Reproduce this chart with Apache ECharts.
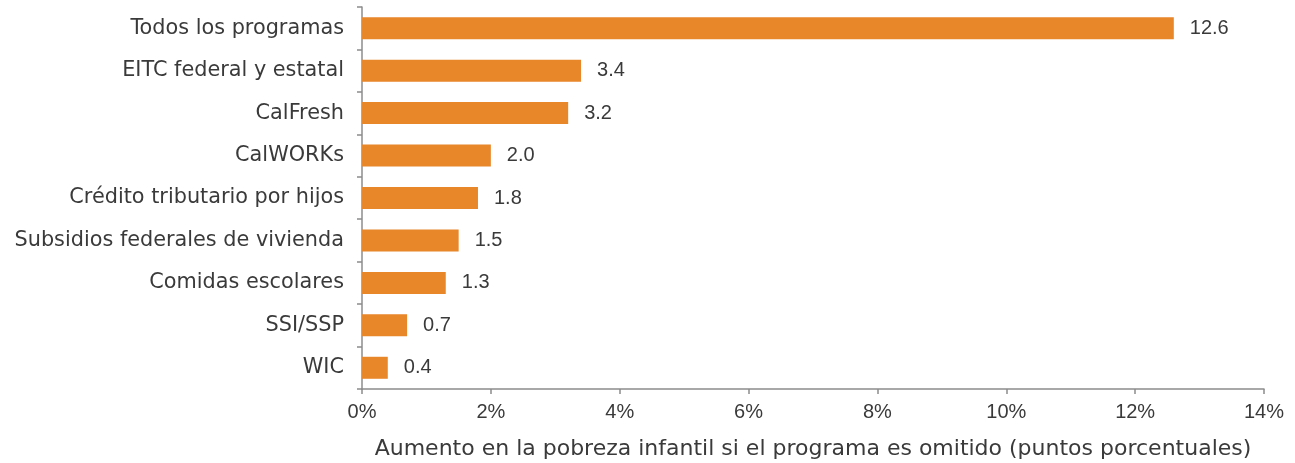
<!DOCTYPE html>
<html>
<head>
<meta charset="utf-8">
<script src="https://cdn.jsdelivr.net/npm/echarts@6/dist/echarts.min.js"></script>
<style>
  html, body { margin: 0; padding: 0; background: #fff; }
  #chart { width: 1295px; height: 463px; }
</style>
</head>
<body>
<div id="chart"></div>
<script>
// programas, de arriba hacia abajo
const categories = [
  'Todos los programas',
  'EITC federal y estatal',
  'CalFresh',
  'CalWORKs',
  'Crédito tributario por hijos',
  'Subsidios federales de vivienda',
  'Comidas escolares',
  'SSI/SSP',
  'WIC'
];
const values = [12.6, 3.4, 3.2, 2.0, 1.8, 1.5, 1.3, 0.7, 0.4];
const axisName = 'Aumento en la pobreza infantil si el programa es omitido (puntos porcentuales)';

const font = '"DejaVu Sans", sans-serif';
const numFont = '"Liberation Sans", Arial, sans-serif';
const textColor = '#3a3a3a';
const axisColor = '#8c8c8c';

const chart = echarts.init(document.getElementById('chart'));
chart.setOption({
  animation: false,
  grid: {
    left: 362, right: 31, top: 7, bottom: 74,
    containLabel: false,
    outerBoundsMode: 'none'
  },
  xAxis: {
    type: 'value',
    min: 0,
    max: 14,
    interval: 2,
    name: axisName,
    nameLocation: 'middle',
    nameGap: 49,
    nameTextStyle: { fontFamily: font, fontSize: 22, color: textColor },
    axisLine: { show: true, lineStyle: { color: axisColor, width: 1.5 } },
    axisTick: { show: true, length: 5, lineStyle: { color: axisColor, width: 1.5 } },
    splitLine: { show: false },
    axisLabel: {
      fontFamily: numFont, fontSize: 20, color: textColor, margin: 13,
      formatter: v => v + '%'
    }
  },
  yAxis: {
    type: 'category',
    data: categories,
    inverse: true,
    axisLine: { show: true, lineStyle: { color: axisColor, width: 1.5 } },
    axisTick: { show: true, length: 5, lineStyle: { color: axisColor, width: 1.5 } },
    axisLabel: { fontFamily: font, fontSize: 20.8, color: textColor, margin: 18 }
  },
  series: [{
    type: 'bar',
    data: values,
    barWidth: 22,
    itemStyle: { color: '#E8862A' },
    label: {
      show: true,
      position: 'right',
      distance: 16,
      fontFamily: numFont,
      fontSize: 20,
      color: textColor,
      formatter: p => p.value.toFixed(1)
    }
  }]
});
</script>
</body>
</html>
